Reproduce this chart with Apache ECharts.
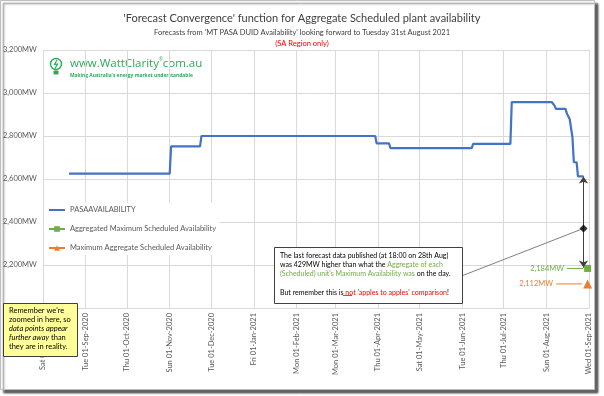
<!DOCTYPE html>
<html><head><meta charset="utf-8">
<script src="https://cdn.jsdelivr.net/npm/echarts@6/dist/echarts.min.js"></script>
<style>html,body{margin:0;padding:0;background:#fff}#c{width:604px;height:396px}</style>
</head><body><div id="c"></div>
<script>
// ---- data ----
const monthTicks = ['2020-08-01','2020-09-01','2020-10-01','2020-11-01','2020-12-01','2021-01-01','2021-02-01','2021-03-01','2021-04-01','2021-05-01','2021-06-01','2021-07-01','2021-08-01','2021-09-01'];
const pasaDates = ['2020-08-20','2020-11-01','2020-11-02','2020-11-23','2020-11-24','2021-03-30','2021-03-31','2021-04-09','2021-04-10','2021-06-08','2021-06-09','2021-07-06','2021-07-07','2021-08-05','2021-08-06','2021-08-07','2021-08-08','2021-08-15','2021-08-16','2021-08-17','2021-08-18','2021-08-19','2021-08-20','2021-08-21','2021-08-23','2021-08-24','2021-08-28'];
const pasaValues = [2625,2625,2752,2752,2800,2800,2766,2766,2744,2744,2763,2763,2958,2958,2950,2941,2926,2926,2903,2895,2879,2872,2794,2678,2678,2612,2612];
const aggMaxDates = ['2021-08-31'];
const aggMaxValues = [2184];
const maxAggDates = ['2021-08-31'];
const maxAggValues = [2112];
const markerDate = '2021-08-28';
const markerValue = 2370;
const pasaLastValue = 2612;
const yMin = 2000, yMax = 3200, yStep = 200;
const seriesNames = ['PASAAVAILABILITY','Aggregated Maximum Scheduled Availability','Maximum Aggregate Scheduled Availability'];

const T = s => Date.parse(s);
const DAYS = ['Sun','Mon','Tue','Wed','Thu','Fri','Sat'];
const MONS = ['Jan','Feb','Mar','Apr','May','Jun','Jul','Aug','Sep','Oct','Nov','Dec'];
function fmtDate(v){
  const d = new Date(v);
  const dd = String(d.getUTCDate()).padStart(2,'0');
  return DAYS[d.getUTCDay()] + ' ' + dd + '-' + MONS[d.getUTCMonth()] + '-' + d.getUTCFullYear();
}
function fmtMW(v){ return v.toLocaleString('en-US') + 'MW'; }

const FONT = 'Lato';
const LOGO = '#2ea95c';
const tickVals = monthTicks.map(T);
const chart = echarts.init(document.getElementById('c'), null, {renderer:'canvas'});
const option = {
  animation: false,
  backgroundColor: '#ffffff',
  textStyle: {fontFamily: FONT},
  title: [
    {text: "'Forecast Convergence' function for Aggregate Scheduled plant availability", left: 'center', top: 8,
     textStyle: {fontFamily: FONT, fontSize: 11, fontWeight: 'normal', color: '#404040'}},
    {text: "Forecasts from 'MT PASA DUID Availability' looking forward to Tuesday 31st August 2021", left: 'center', top: 24,
     textStyle: {fontFamily: FONT, fontSize: 7.5, fontWeight: 'normal', color: '#404040'}},
    {text: "(SA Region only)", left: 'center', top: 35,
     textStyle: {fontFamily: FONT, fontSize: 7.5, fontWeight: 'normal', color: '#ff0000'}}
  ],
  grid: {left: 42, right: 15, top: 50, bottom: 88, containLabel: false},
  legend: {
    data: [
      {name: seriesNames[0], icon: 'path://M0,0 L16,0 L16,2 L0,2 Z'},
      {name: seriesNames[1]},
      {name: seriesNames[2]}
    ],
    orient: 'vertical', left: 44, top: 203,
    itemWidth: 16, itemHeight: 7, itemGap: 11, padding: [3,4,3,4],
    backgroundColor: '#ffffff',
    textStyle: {fontFamily: FONT, fontSize: 7.5, color: '#595959'}
  },
  xAxis: {
    type: 'value', min: tickVals[0], max: tickVals[tickVals.length-1],
    axisLine: {show: true, lineStyle: {color: '#d9d9d9'}},
    axisTick: {show: false, customValues: tickVals},
    axisLabel: {customValues: tickVals, rotate: 90, margin: 5, fontSize: 7.5, color: '#595959', fontFamily: FONT,
      formatter: v => fmtDate(v), showMinLabel: true, showMaxLabel: true, hideOverlap: false},
    splitLine: {show: true, lineStyle: {color: '#d9d9d9', width: 1}}
  },
  yAxis: {
    type: 'value', min: yMin, max: yMax, interval: yStep,
    axisLine: {show: false}, axisTick: {show: false},
    axisLabel: {formatter: v => fmtMW(v), fontSize: 7.5, color: '#595959', margin: 6, fontFamily: FONT},
    splitLine: {lineStyle: {color: '#d9d9d9', width: 1}}
  },
  series: [
    {name: seriesNames[0], type: 'line', showSymbol: false, symbol: 'none',
     data: pasaDates.map((d,i) => [T(d), pasaValues[i]]),
     color: '#4472c4', lineStyle: {color: '#4472c4', width: 2.2}, z: 3},
    {name: seriesNames[1], type: 'line', symbol: 'rect', symbolSize: 7,
     data: aggMaxDates.map((d,i) => [T(d), aggMaxValues[i]]),
     color: '#70ad47', itemStyle: {color: '#70ad47'}, lineStyle: {color: '#70ad47', width: 2},
     label: {show: true, position: 'left', distance: 1,
       formatter: p => '{t|' + fmtMW(p.value[1]) + '} {l|}',
       rich: {t: {fontSize: 7.5, color: '#70ad47', fontFamily: FONT}, l: {width: 16, height: 1, backgroundColor: '#70ad47'}}},
     z: 5},
    {name: seriesNames[2], type: 'line', symbol: 'triangle', symbolSize: 9,
     data: maxAggDates.map((d,i) => [T(d), maxAggValues[i]]),
     color: '#ed7d31', itemStyle: {color: '#ed7d31'}, lineStyle: {color: '#ed7d31', width: 2},
     label: {show: true, position: 'left', distance: 1,
       formatter: p => '{t|' + fmtMW(p.value[1]) + '} {l|}',
       rich: {t: {fontSize: 7.5, color: '#ed7d31', fontFamily: FONT}, l: {width: 26, height: 1, backgroundColor: '#ed7d31'}}},
     z: 5},
    {name: 'gapArrows', type: 'lines', coordinateSystem: 'cartesian2d',
     symbol: ['none','arrow'], symbolSize: 7,
     lineStyle: {color: '#404040', width: 1, opacity: 1},
     data: [
       {coords: [[T(markerDate), markerValue],[T(markerDate), pasaLastValue]]},
       {coords: [[T(markerDate), markerValue],[T(markerDate), aggMaxValues[0] + 4]]}
     ], z: 6},
    {name: 'leader', type: 'lines', coordinateSystem: 'cartesian2d',
     symbol: ['none','none'],
     lineStyle: {color: '#7f7f7f', width: 1, opacity: 1},
     data: [{coords: [[T('2021-06-01'), 2150],[T(markerDate), markerValue]]}], z: 6},
    {name: 'gapMarker', type: 'scatter', symbol: 'diamond', symbolSize: 8,
     data: [[T(markerDate), markerValue]], itemStyle: {color: '#000000'}, z: 7}
  ],
  graphic: [
    {type: 'rect', z: -100, shape: {x: 0.5, y: 0.5, width: 594, height: 389},
     style: {fill: '#ffffff', stroke: '#bfbfbf', lineWidth: 1, shadowBlur: 2, shadowOffsetX: 3, shadowOffsetY: 3, shadowColor: 'rgba(0,0,0,0.6)'}},
    {type: 'group', left: 48, top: 56, z: 20, children: [
      {type: 'circle', shape: {cx: 7, cy: 6.5, r: 5.5}, style: {fill: 'none', stroke: LOGO, lineWidth: 1.4}},
      {type: 'polyline', shape: {points: [[8,2.5],[5.5,7],[8.5,6.5],[6,11]]}, style: {fill: 'none', stroke: LOGO, lineWidth: 1.2}},
      {type: 'rect', shape: {x: 4.5, y: 13, width: 5, height: 4, r: 1}, style: {fill: LOGO}},
      {type: 'text', x: 21, y: 0, style: {
        text: '{m|www.WattClarity}{s|®}{m|com.au}',
        rich: {m: {fontSize: 11.5, fontFamily: 'Open Sans', fill: LOGO, verticalAlign: 'bottom'},
               s: {fontSize: 4.5, fontFamily: 'Open Sans', fill: LOGO, verticalAlign: 'top'}}}},
      {type: 'text', x: 21, y: 15.5, style: {text: "Making Australia's energy market understandable", font: 'bold 4.9px "Open Sans"', fill: LOGO}}
    ]},
    {type: 'rect', z: 20, shape: {x: 274.5, y: 247.5, width: 188, height: 56},
     style: {fill: '#ffffff', stroke: '#404040', lineWidth: 1}},
    {type: 'text', z: 21, x: 280, y: 251, style: {
      text: '{b|The last forecast data published (at 18:00 on 28th Aug)}\n{b|was 429MW higher than what the }{g|Aggregate of each}\n{g|(Scheduled) unit\'s Maximum Availability was}{b| on the day.}\n{b| }\n{b|But remember this is }{r|not}{r| \'apples to apples\' comparison}{b|!}',
      rich: {
        b: {fontSize: 7, lineHeight: 9.2, fill: '#000000', fontFamily: FONT},
        g: {fontSize: 7, lineHeight: 9.2, fill: '#70ad47', fontFamily: FONT},
        r: {fontSize: 7, lineHeight: 9.2, fill: '#ff0000', fontFamily: FONT}
      }}},
    {type: 'line', z: 21, shape: {x1: 343, y1: 295.5, x2: 352, y2: 295.5}, style: {stroke: '#ff0000', lineWidth: 0.8}},
    {type: 'rect', z: 20, shape: {x: 3.5, y: 303.5, width: 74, height: 53},
     style: {fill: '#ffff99', stroke: '#404040', lineWidth: 1}},
    {type: 'text', z: 21, x: 9, y: 306, style: {
      text: "{n|Remember we're}\n{n|zoomed in here, so}\n{i|data points appear}\n{i|further away}{n| than}\n{n|they are in reality.}",
      rich: {
        n: {fontSize: 7.5, lineHeight: 9, fill: '#000000', fontFamily: FONT},
        i: {fontSize: 7.5, lineHeight: 9, fill: '#000000', fontStyle: 'italic', fontFamily: FONT}
      }}}
  ]
};
chart.setOption(option);
</script>
</body></html>
